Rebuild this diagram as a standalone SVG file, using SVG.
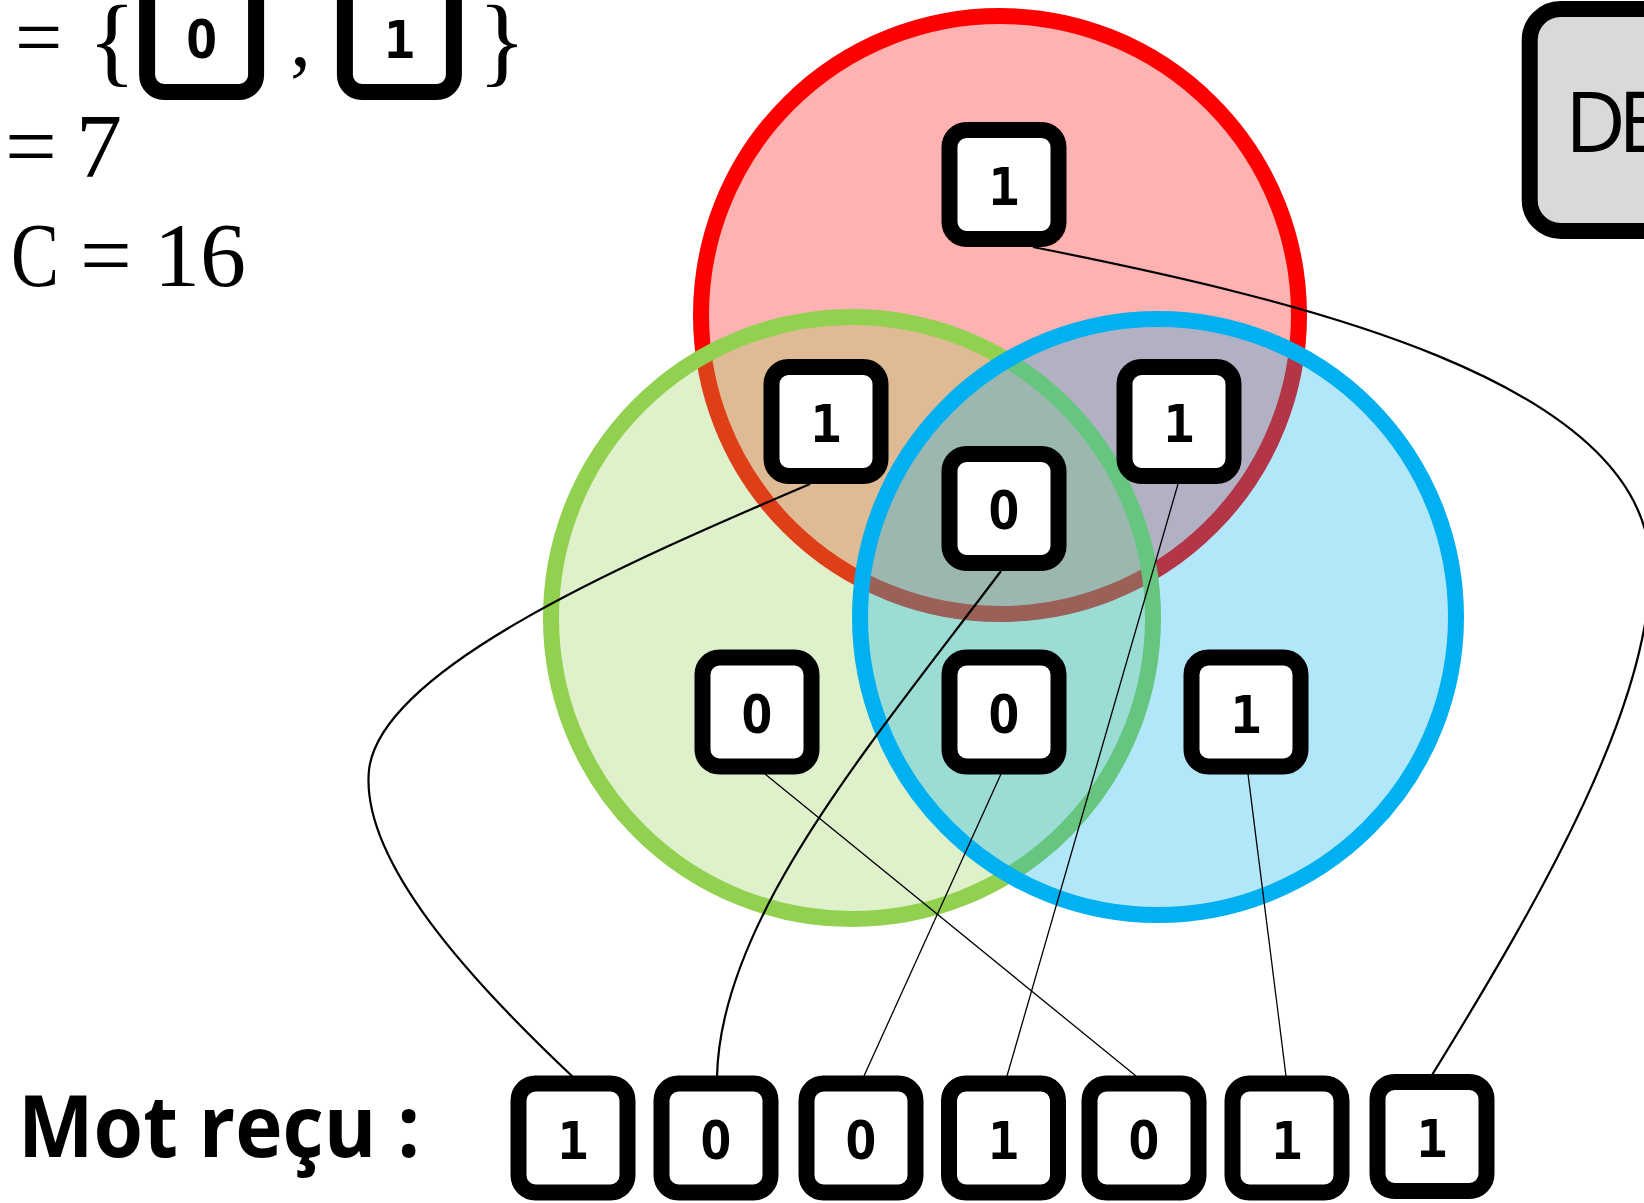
<svg xmlns="http://www.w3.org/2000/svg" xmlns:xlink="http://www.w3.org/1999/xlink" width="1644" height="1203" viewBox="0 0 1644 1203">
  <style>
    .frame { fill: #ffffff; stroke: #000000; stroke-width: 16; }
    .dig { font-family: "DejaVu Sans Mono", "Liberation Mono", monospace; font-weight: 700; font-size: 52px; text-anchor: middle; fill: #000; }
    .dig.z { font-family: "Noto Sans", "Open Sans", sans-serif; font-size: 53px; }
    .math { font-family: "Liberation Serif", "DejaVu Serif", serif; fill: #000; }
    .wire { fill: none; stroke: #000; stroke-width: 2.2; }
    .wire.thin { stroke-width: 1.3; }
    .set { stroke-width: 16; }
  </style>
  <defs>
    <rect id="bit" class="frame" x="-54.5" y="-54.5" width="109" height="109" rx="17" ry="17"/>
  </defs>

  <rect width="1644" height="1203" fill="#ffffff"/>

  <!-- Venn sets: red drawn first, green over it, blue on top -->
  <g id="sets">
    <circle id="set-red" class="set" cx="1000" cy="315" r="299" fill="rgba(255,0,0,0.3)" stroke="#FF0000"/>
    <circle id="set-green" class="set" cx="852" cy="618" r="301" fill="rgba(146,208,80,0.3)" stroke="#92D050"/>
    <circle id="set-blue" class="set" cx="1158" cy="617" r="298" fill="rgba(0,176,240,0.3)" stroke="#00B0F0"/>
  </g>

  <!-- links from Venn cells to received word bits -->
  <g id="connectors">
    <path class="wire" d="M1033,247 C1300,300 1640,380 1650,560 C1655,700 1540,900 1432,1075"/>
    <path class="wire" d="M810,484 C620,565 380,670 369,770 C360,860 470,980 573,1077"/>
    <path class="wire" d="M1001,571 C870,745 720,920 717,1077"/>
    <path class="wire thin" d="M1178,484 L1007,1076"/>
    <path class="wire thin" d="M1001,774 L864,1076"/>
    <path class="wire thin" d="M765,774 L1136,1076"/>
    <path class="wire thin" d="M1248,774 L1286,1076"/>
  </g>

  <!-- bits inside the Venn cells -->
  <g id="cell-r" transform="translate(1004,184.5)"><use xlink:href="#bit"/><text class="dig" y="20.5">1</text></g>
  <g id="cell-rg" transform="translate(826,421.5)"><use xlink:href="#bit"/><text class="dig" y="20.5">1</text></g>
  <g id="cell-rb" transform="translate(1179,421.5)"><use xlink:href="#bit"/><text class="dig" y="20.5">1</text></g>
  <g id="cell-rgb" transform="translate(1004,508.5)"><use xlink:href="#bit"/><text class="dig z" y="20.5">0</text></g>
  <g id="cell-g" transform="translate(757,712)"><use xlink:href="#bit"/><text class="dig z" y="20.5">0</text></g>
  <g id="cell-gb" transform="translate(1004,712)"><use xlink:href="#bit"/><text class="dig z" y="20.5">0</text></g>
  <g id="cell-b" transform="translate(1246,712)"><use xlink:href="#bit"/><text class="dig" y="20.5">1</text></g>

  <!-- received word -->
  <g id="label-word">
    <text x="18" y="1157" font-family="'Open Sans', 'Noto Sans', sans-serif" font-weight="700" font-size="86" textLength="402" lengthAdjust="spacingAndGlyphs">Mot reçu :</text>
  </g>
  <g id="word-1" transform="translate(573,1138)"><use xlink:href="#bit"/><text class="dig" y="20.5">1</text></g>
  <g id="word-2" transform="translate(716,1138)"><use xlink:href="#bit"/><text class="dig z" y="20.5">0</text></g>
  <g id="word-3" transform="translate(861,1138)"><use xlink:href="#bit"/><text class="dig z" y="20.5">0</text></g>
  <g id="word-4" transform="translate(1003.5,1138)"><use xlink:href="#bit"/><text class="dig" y="20.5">1</text></g>
  <g id="word-5" transform="translate(1144,1138)"><use xlink:href="#bit"/><text class="dig z" y="20.5">0</text></g>
  <g id="word-6" transform="translate(1287,1138)"><use xlink:href="#bit"/><text class="dig" y="20.5">1</text></g>
  <g id="word-7" transform="translate(1432,1136.5)"><use xlink:href="#bit"/><text class="dig" y="20.5">1</text></g>

  <!-- alphabet and parameters -->
  <g id="formula">
    <text class="math" x="15" y="66" font-size="84">=</text>
    <text class="math" x="88" y="74" font-size="100">{</text>
    <g id="sym-0" transform="translate(201.6,37.5)"><use xlink:href="#bit"/><text class="dig z" y="20.8">0</text></g>
    <text class="math" x="290" y="66" font-size="84">,</text>
    <g id="sym-1" transform="translate(399.4,37.5)"><use xlink:href="#bit"/><text class="dig" y="20.8">1</text></g>
    <text class="math" x="478" y="74" font-size="100">}</text>
    <text class="math" x="5" y="177" font-size="92">=</text>
    <text class="math" x="76" y="177" font-size="92">7</text>
    <text class="math" x="11" y="286" font-size="92" textLength="48" lengthAdjust="spacingAndGlyphs">C</text>
    <text class="math" x="80" y="286" font-size="92">=</text>
    <text class="math" x="154" y="286" font-size="92">16</text>
  </g>

  <!-- decoder block, partly outside the canvas -->
  <g id="decoder">
    <rect x="1529.7" y="9" width="300" height="222" rx="31" ry="31" fill="#D9D9D9" stroke="#000" stroke-width="16"/>
    <text x="1565" y="152" font-family="'Open Sans', 'Noto Sans', sans-serif" font-size="84" letter-spacing="-8">DE</text>
  </g>
</svg>
